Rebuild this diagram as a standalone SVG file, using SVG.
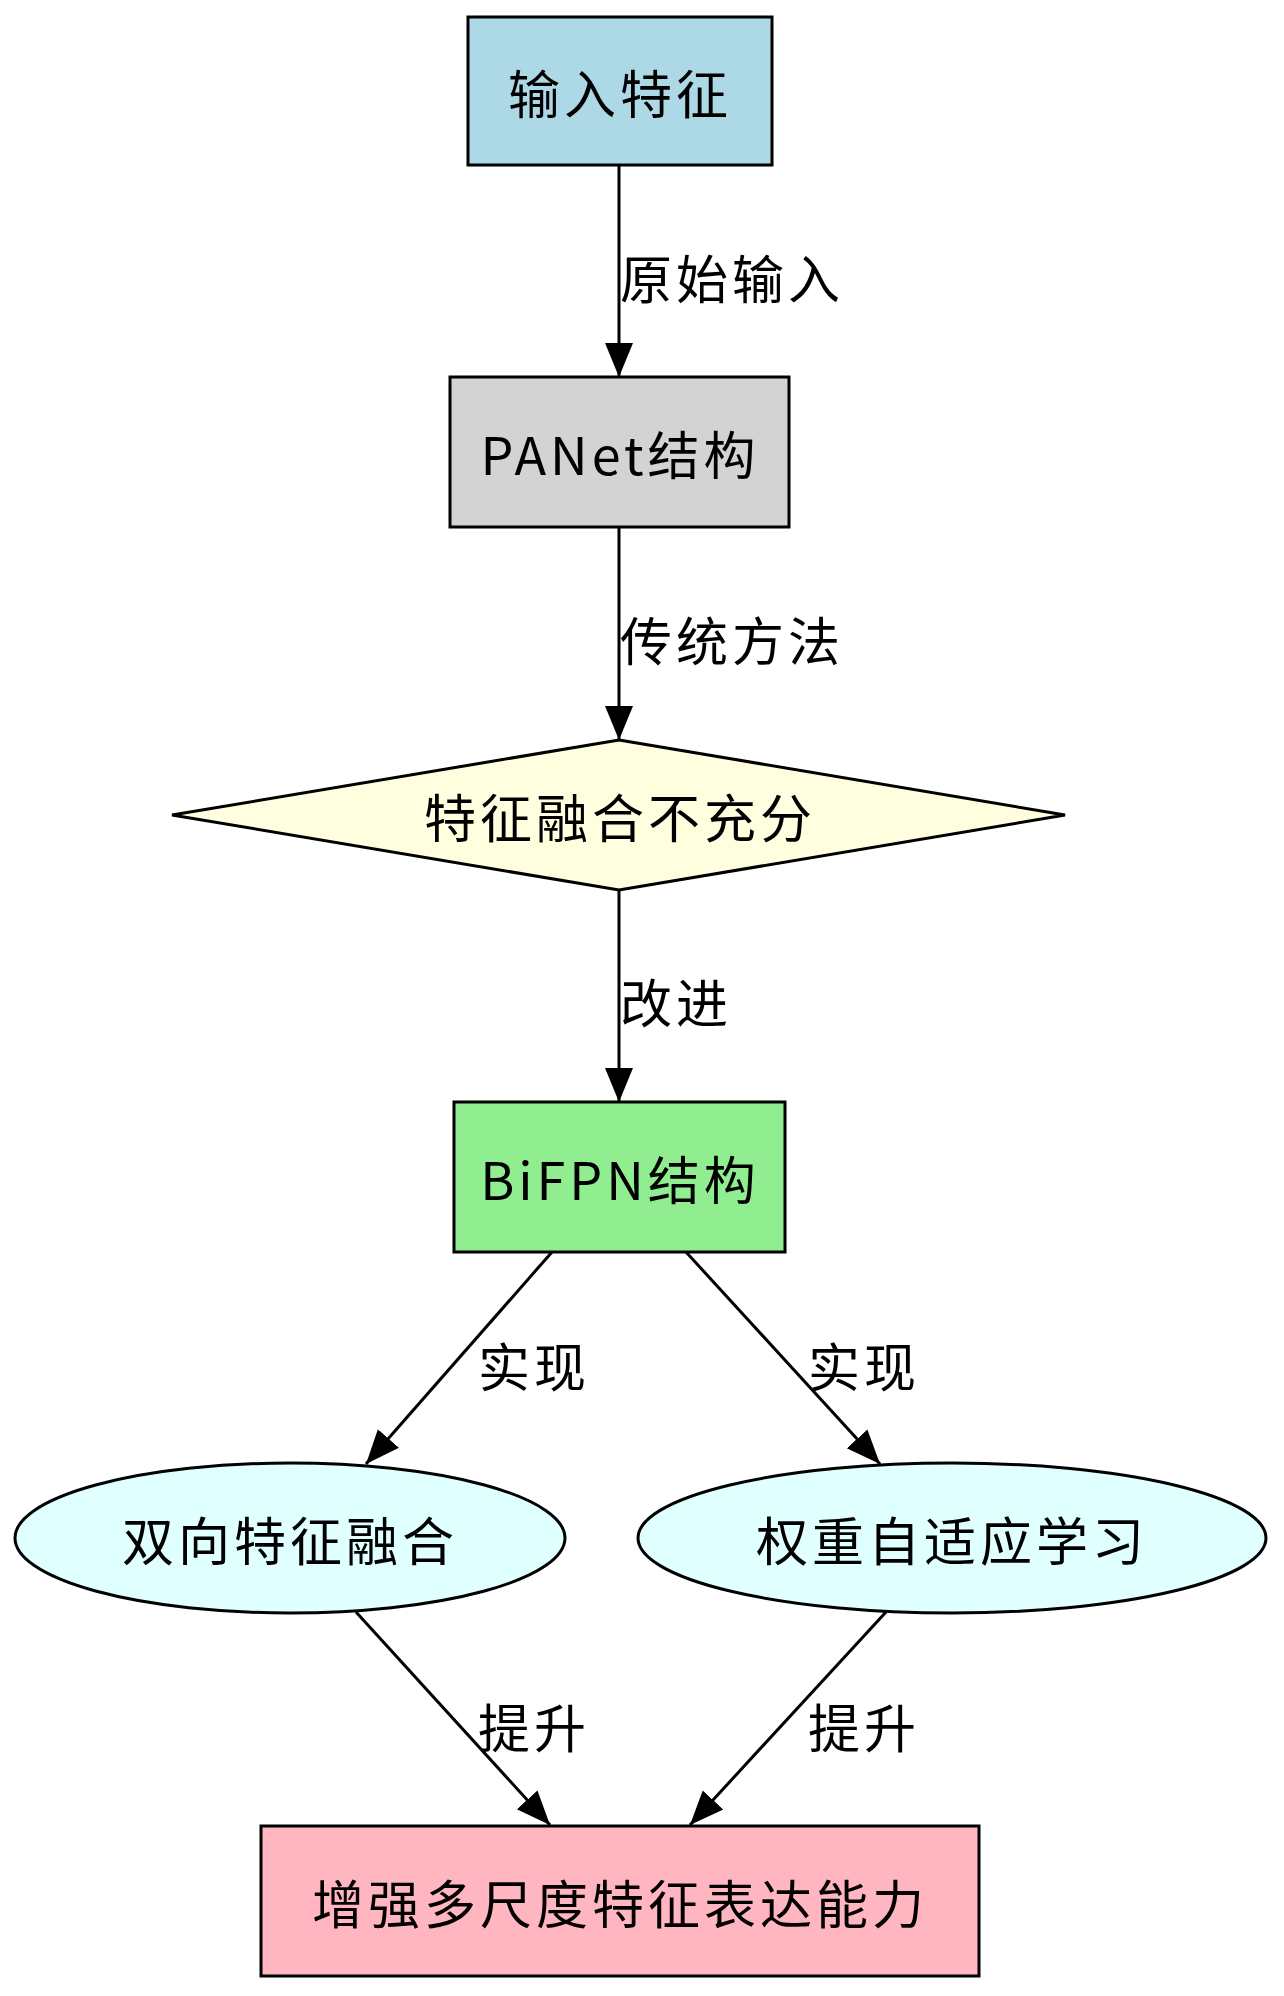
<svg xmlns="http://www.w3.org/2000/svg" width="1284" height="1996" viewBox="0 0 1284 1996">
<style>
.s{stroke:#000;stroke-width:3}
text{font-family:"Noto Sans CJK SC","Liberation Sans",sans-serif;font-size:52px;fill:#000;letter-spacing:4px}
.n{text-anchor:middle;dominant-baseline:central}
.e{fill:none;stroke:#000;stroke-width:3;marker-end:url(#a)}
</style>
<defs><marker id="a" markerWidth="12" markerHeight="12" refX="11" refY="6" orient="auto" markerUnits="userSpaceOnUse" viewBox="0 0 12 12"><path d="M0,0L12,6L0,12z"/></marker></defs>
<rect width="1284" height="1996" fill="#fff"/>
<g id="connectors">
<defs><marker id="b" markerWidth="36" markerHeight="36" refX="34" refY="18" orient="auto" markerUnits="userSpaceOnUse"><path d="M0,4L34,18L0,32z"/></marker></defs>
<path d="M619,165V377" class="s" fill="none" marker-end="url(#b)"/>
<path d="M619,527V740" class="s" fill="none" marker-end="url(#b)"/>
<path d="M619,890V1102" class="s" fill="none" marker-end="url(#b)"/>
<path d="M552,1252L366,1464" class="s" fill="none" marker-end="url(#b)"/>
<path d="M686,1252L880,1464" class="s" fill="none" marker-end="url(#b)"/>
<path d="M356,1612L550,1825" class="s" fill="none" marker-end="url(#b)"/>
<path d="M886,1612L690,1825" class="s" fill="none" marker-end="url(#b)"/>
<text x="620" y="276" dominant-baseline="central">原始输入</text>
<text x="620" y="638" dominant-baseline="central">传统方法</text>
<text x="620" y="1000" dominant-baseline="central">改进</text>
<text x="534" y="1364" class="n">实现</text>
<text x="864" y="1364" class="n">实现</text>
<text x="534" y="1725" class="n">提升</text>
<text x="864" y="1725" class="n">提升</text>
</g>
<g id="n1"><rect x="468" y="17" width="304" height="148" fill="#add8e6" class="s"/><text x="620" y="91" class="n">输入特征</text></g>
<g id="n2"><rect x="450" y="377" width="339" height="150" fill="#d3d3d3" class="s"/><text x="620" y="452" class="n">PANet结构</text></g>
<g id="n3"><path d="M619,740L1065,815L619,890L172,815Z" fill="#ffffe0" class="s"/><text x="620" y="815" class="n">特征融合不充分</text></g>
<g id="n4"><rect x="454" y="1102" width="331" height="150" fill="#90ee90" class="s"/><text x="620" y="1177" class="n">BiFPN结构</text></g>
<g id="n5"><ellipse cx="290" cy="1538" rx="275" ry="75" fill="#e0ffff" class="s"/><text x="290" y="1538" class="n">双向特征融合</text></g>
<g id="n6"><ellipse cx="952" cy="1538" rx="314" ry="75" fill="#e0ffff" class="s"/><text x="952" y="1538" class="n">权重自适应学习</text></g>
<g id="n7"><rect x="261" y="1826" width="718" height="150" fill="#ffb6c1" class="s"/><text x="620" y="1901" class="n">增强多尺度特征表达能力</text></g>
</svg>
